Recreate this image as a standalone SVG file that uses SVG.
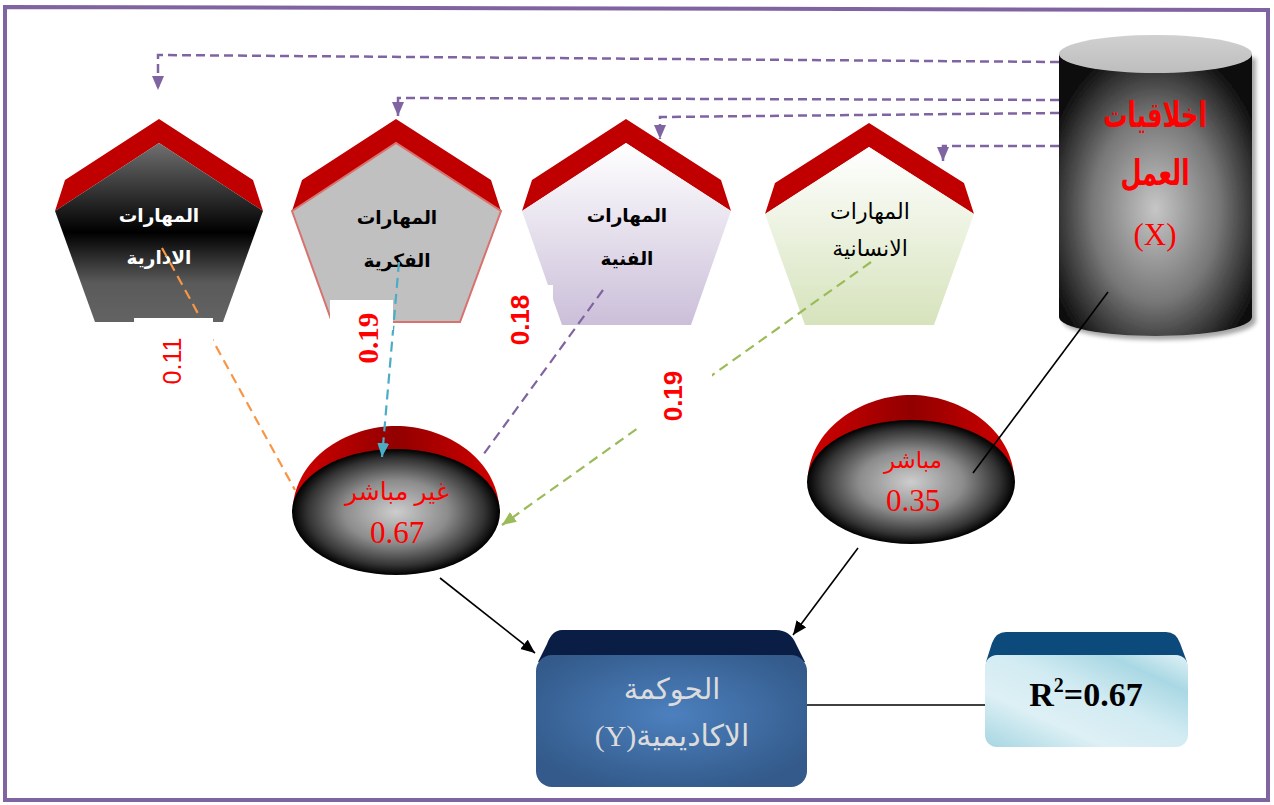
<svg xmlns="http://www.w3.org/2000/svg" width="1274" height="805" viewBox="0 0 1274 805">
<style>
.roof{fill:#C00000}
.ar{font-family:"DejaVu Sans",sans-serif;text-anchor:middle}
.sr{font-family:"Liberation Serif","DejaVu Sans",serif;text-anchor:middle}
.pdash{fill:none;stroke:#8064A2;stroke-width:2.5;stroke-dasharray:9 5}
.blk{fill:none;stroke:#000;stroke-width:1.6}
.white{fill:#fff}
</style>
<defs>
<linearGradient id="gP1" x1="0" y1="0" x2="0" y2="1"><stop offset="0" stop-color="#707070"/><stop offset="0.5" stop-color="#000"/><stop offset="0.78" stop-color="#5a5a5a"/><stop offset="1" stop-color="#636363"/></linearGradient>
<linearGradient id="gP3" x1="0" y1="0" x2="0" y2="1"><stop offset="0" stop-color="#fff"/><stop offset="1" stop-color="#cbbfd9"/></linearGradient>
<linearGradient id="gP4" x1="0" y1="0" x2="0" y2="1"><stop offset="0" stop-color="#fff"/><stop offset="1" stop-color="#d6e3bc"/></linearGradient>
<radialGradient id="gCyl" cx="0.5" cy="0.55" r="0.6"><stop offset="0" stop-color="#c6c6c6"/><stop offset="0.55" stop-color="#777"/><stop offset="1" stop-color="#0d0d0d"/></radialGradient>
<linearGradient id="gTop" x1="0" y1="0" x2="0" y2="1"><stop offset="0" stop-color="#d0d0d0"/><stop offset="1" stop-color="#bdbdbd"/></linearGradient>
<radialGradient id="gEl" cx="0.5" cy="0.5" r="0.5"><stop offset="0" stop-color="#cdcdcd"/><stop offset="0.5" stop-color="#8c8c8c"/><stop offset="0.85" stop-color="#333"/><stop offset="1" stop-color="#000"/></radialGradient>
<linearGradient id="gRed" x1="0" y1="0" x2="1" y2="0"><stop offset="0" stop-color="#d00000"/><stop offset="0.5" stop-color="#920000"/><stop offset="1" stop-color="#d00000"/></linearGradient>
<radialGradient id="gY" cx="0.5" cy="0.45" r="0.6"><stop offset="0" stop-color="#4c80be"/><stop offset="1" stop-color="#335a8a"/></radialGradient>
<linearGradient id="gR" x1="0" y1="1" x2="1" y2="0"><stop offset="0" stop-color="#a6d6e2"/><stop offset="0.3" stop-color="#ddf0f5"/><stop offset="0.55" stop-color="#d2ebf2"/><stop offset="0.8" stop-color="#a9d8e4"/><stop offset="1" stop-color="#e0f1f6"/></linearGradient>
<filter id="sh" x="-10%" y="-10%" width="130%" height="130%"><feDropShadow dx="4" dy="4" stdDeviation="2" flood-color="#000" flood-opacity="0.35"/></filter>
<marker id="mP" markerUnits="userSpaceOnUse" markerWidth="16" markerHeight="14" refX="14" refY="6" orient="auto"><path d="M0,0 L14,6 L0,12 Z" fill="#8064A2"/></marker>
<marker id="mK" markerUnits="userSpaceOnUse" markerWidth="16" markerHeight="14" refX="14" refY="6" orient="auto"><path d="M0,0 L14,6 L0,12 Z" fill="#000"/></marker>
<marker id="mB" markerUnits="userSpaceOnUse" markerWidth="16" markerHeight="14" refX="14" refY="6" orient="auto"><path d="M0,0 L14,6 L0,12 Z" fill="#4BACC6"/></marker>
<marker id="mG" markerUnits="userSpaceOnUse" markerWidth="16" markerHeight="14" refX="14" refY="6" orient="auto"><path d="M0,0 L14,6 L0,12 Z" fill="#9BBB59"/></marker>
</defs>
<rect width="1274" height="805" fill="#fff"/>
<path d="M5,7 L1268,10 L1268,800 L5,800 Z" fill="none" stroke="#8064A2" stroke-width="4"/>

<g id="node-idariya">
<path class="roof" d="M55,211 L65,180 L159,119 L253,180 L263,211 L159,143 Z"/>
<path d="M55,211 L159,143 L263,211 L223,322 L95,322 Z" fill="url(#gP1)"/>
<text class="ar" x="159" y="222" font-size="18.5" font-weight="bold" fill="#fff">المهارات</text>
<text class="ar" x="159" y="264" font-size="18.5" font-weight="bold" fill="#fff">الادارية</text>
</g>
<g id="node-fikriya">
<path class="roof" d="M292,211 L302,180 L396,119 L491,180 L501,211 L396,143 Z"/>
<path d="M292,211 L396,143 L501,211 L460,322 L332,322 Z" fill="#c0c0c0" stroke="#d9716d" stroke-width="2"/>
<text class="ar" x="397" y="224" font-size="18.5" font-weight="bold" fill="#000">المهارات</text>
<text class="ar" x="397" y="267" font-size="18.5" font-weight="bold" fill="#000">الفكرية</text>
</g>
<g id="node-fanniya">
<path class="roof" d="M522,211 L532,180 L626,119 L721,180 L731,211 L626,143 Z"/>
<path d="M522,211 L626,143 L731,211 L691,325 L562,325 Z" fill="url(#gP3)"/>
<text class="ar" x="627" y="222" font-size="18.5" font-weight="bold" fill="#000">المهارات</text>
<text class="ar" x="627" y="265" font-size="18.5" font-weight="bold" fill="#000">الفنية</text>
</g>
<g id="node-insaniya">
<path class="roof" d="M765,214 L775,183 L869,123 L964,183 L974,214 L869,147 Z"/>
<path d="M765,214 L869,147 L974,214 L934,325 L805,325 Z" fill="url(#gP4)"/>
<text class="ar" x="870" y="219" font-size="22" fill="#000">المهارات</text>
<text class="ar" x="870" y="256" font-size="22" fill="#000">الانسانية</text>
</g>

<g id="node-x">
<path d="M1059,54 L1059,317 A96.5,19 0 0 0 1252,317 L1252,54 Z" fill="url(#gCyl)" filter="url(#sh)"/>
<ellipse cx="1155.5" cy="54" rx="96.5" ry="19" fill="url(#gTop)"/>
<text class="ar" transform="translate(1155,127) scale(0.9,1.3)" font-size="27" font-weight="bold" fill="#FF0000">اخلاقيات</text>
<text class="ar" transform="translate(1155,185) scale(0.9,1.3)" font-size="27" font-weight="bold" fill="#FF0000">العمل</text>
<text class="sr" x="1155" y="245" font-size="31" fill="#FF0000">(X)</text>
</g>

<g id="node-indirect">
<path d="M293,505 C298,455 350,426 396,426 C442,426 494,455 499,505 Z" fill="url(#gRed)"/>
<ellipse cx="396" cy="512" rx="104" ry="63" fill="url(#gEl)"/>
<text class="sr" x="397" y="500" font-size="25" fill="#FF0000">غير مباشر</text>
<text class="sr" x="397" y="543" font-size="31" fill="#FF0000">0.67</text>
</g>
<g id="node-direct">
<path d="M808,475 C813,425 865,395 911,395 C957,395 1009,425 1014,475 Z" fill="url(#gRed)"/>
<ellipse cx="911" cy="482" rx="104" ry="62" fill="url(#gEl)"/>
<text class="sr" x="913" y="468" font-size="23" fill="#FF0000">مباشر</text>
<text class="sr" x="913" y="511" font-size="31" fill="#FF0000">0.35</text>
</g>

<g id="node-y">
<path d="M562,630 H776 Q790,630 796,644 L805,662 H538 L547,644 Q552,630 562,630 Z" fill="#0a1d45"/>
<rect x="536" y="655" width="271" height="132" rx="16" fill="url(#gY)"/>
<text class="sr" x="672" y="699" font-size="29" fill="#dcdcdc">الحوكمة</text>
<text class="sr" x="672" y="746" font-size="30" fill="#dcdcdc">(Y)الاكاديمية</text>
</g>
<g id="node-r2">
<path d="M1006,632 H1166 Q1176,632 1180,643 L1187,662 H986 L992,643 Q996,632 1006,632 Z" fill="#0d4a7c"/>
<rect x="985" y="655" width="203" height="92" rx="12" fill="url(#gR)"/>
<text class="sr" x="1086" y="706" font-size="34" font-weight="bold" fill="#000">R<tspan font-size="20" dy="-14">2</tspan><tspan dy="14">=0.67</tspan></text>
</g>

<g id="connectors">
<path class="pdash" d="M1059,62 L158,55 L158,90" marker-end="url(#mP)"/>
<path class="pdash" d="M1059,100 L398,98 L398,116" marker-end="url(#mP)"/>
<path class="pdash" d="M1059,113 L660,117 L660,139" marker-end="url(#mP)"/>
<path class="pdash" d="M1059,146 L943,146 L943,161" marker-end="url(#mP)"/>
<line x1="162" y1="248" x2="295" y2="490" stroke="#F79646" stroke-width="2.2" stroke-dasharray="10 6"/>
<line x1="399" y1="262" x2="382" y2="457" stroke="#4BACC6" stroke-width="2.2" stroke-dasharray="10 6" marker-end="url(#mB)"/>
<line x1="603" y1="290" x2="483" y2="455" stroke="#8064A2" stroke-width="2.2" stroke-dasharray="10 6"/>
<line x1="871" y1="262" x2="502" y2="525" stroke="#9BBB59" stroke-width="2.2" stroke-dasharray="10 6" marker-end="url(#mG)"/>
<line class="blk" x1="1108" y1="292" x2="973" y2="473"/>
<line class="blk" x1="440" y1="578" x2="535" y2="653" marker-end="url(#mK)"/>
<line class="blk" x1="858" y1="548" x2="793" y2="635" marker-end="url(#mK)"/>
<line class="blk" x1="807" y1="705" x2="985" y2="705"/>
</g>

<g id="labels">
<rect class="white" x="134" y="318" width="79" height="28"/>
<text x="172" y="361" transform="rotate(-90 172 361)" font-family="Liberation Sans, sans-serif" font-size="25" fill="#FF0000" text-anchor="middle" dominant-baseline="central">0.11</text>
<rect class="white" x="330" y="300" width="63" height="30"/>
<text x="368" y="338" transform="rotate(-90 368 338)" font-family="Liberation Serif, serif" font-size="29" font-weight="bold" fill="#FF0000" text-anchor="middle" dominant-baseline="central">0.19</text>
<rect class="white" x="504" y="285" width="49" height="45"/>
<text x="520" y="320" transform="rotate(-90 520 320)" font-family="Liberation Sans, sans-serif" font-size="26" font-weight="bold" fill="#FF0000" text-anchor="middle" dominant-baseline="central">0.18</text>
<rect class="white" x="637" y="365" width="75" height="65"/>
<text x="673" y="396" transform="rotate(-90 673 396)" font-family="Liberation Sans, sans-serif" font-size="26" font-weight="bold" fill="#FF0000" text-anchor="middle" dominant-baseline="central">0.19</text>
</g>
</svg>
